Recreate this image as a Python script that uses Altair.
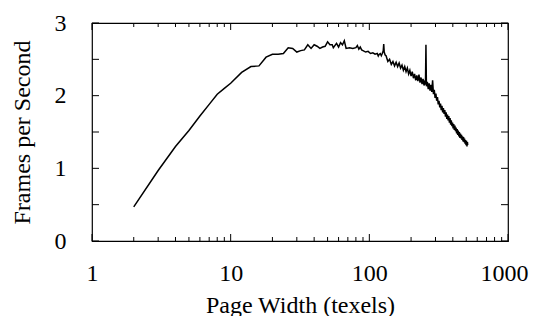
import altair as alt
import pandas as pd

# ---- data ----
rise_w = [2, 3, 4, 5, 6, 7, 8, 9, 10, 12, 14, 16, 18, 20, 22, 24, 26, 28]
rise_fps = [0.47, 0.97, 1.30, 1.52, 1.72, 1.88, 2.02, 2.10, 2.17, 2.32, 2.40, 2.41, 2.53, 2.57, 2.57, 2.58, 2.66, 2.65]

plateau_w = [30, 32, 34, 36, 38, 40, 42, 44, 46, 48, 50, 52, 54, 55, 58, 60, 62, 64, 66, 68,
             72, 76, 80, 82, 84, 86, 88, 90, 94, 98, 102, 106, 110, 114, 116, 118, 120, 122,
             124, 126, 127, 128, 130]
plateau_fps = [2.60, 2.62, 2.63, 2.70, 2.65, 2.70, 2.68, 2.65, 2.67, 2.68, 2.74, 2.70, 2.70, 2.66, 2.72, 2.67, 2.73, 2.70, 2.755, 2.65,
               2.66, 2.65, 2.66, 2.69, 2.64, 2.67, 2.63, 2.62, 2.60, 2.61, 2.58, 2.59, 2.57, 2.58, 2.545, 2.57, 2.58, 2.55,
               2.58, 2.62, 2.71, 2.60, 2.56]

decline_w = [132, 136, 140, 144, 148, 152, 156, 160, 164, 168, 172, 176, 180, 184, 188, 192, 196, 200,
             204, 208, 212, 216, 220, 224, 228, 232, 236, 240, 244, 248, 252, 254, 256, 258, 262, 266,
             270, 274, 278, 282, 286, 290, 294, 298, 302, 306, 310, 314, 318, 322, 326, 330, 334, 338,
             342, 346, 350, 354, 358, 362, 366, 370, 374, 378, 382, 386, 390, 394, 398, 402, 406, 410,
             414, 418, 422, 426, 430, 434, 438, 442, 446, 450, 454, 458, 462, 466, 470, 474, 478, 482,
             486, 490, 494, 498, 502, 506, 510, 512]
decline_fps = [2.55, 2.47, 2.50, 2.43, 2.47, 2.41, 2.46, 2.40, 2.45, 2.38, 2.42, 2.35, 2.40, 2.33, 2.38, 2.30, 2.35, 2.27,
               2.33, 2.24, 2.30, 2.21, 2.28, 2.20, 2.29, 2.18, 2.25, 2.16, 2.23, 2.14, 2.21, 2.15, 2.70, 2.13, 2.19, 2.09,
               2.17, 2.07, 2.15, 2.05, 2.21, 2.02, 2.08, 1.97, 2.03, 1.93, 1.98, 1.88, 1.93, 1.84, 1.89, 1.80, 1.86, 1.77,
               1.83, 1.75, 1.80, 1.71, 1.77, 1.68, 1.74, 1.66, 1.72, 1.63, 1.69, 1.60, 1.66, 1.58, 1.63, 1.55, 1.61, 1.53,
               1.59, 1.51, 1.56, 1.48, 1.54, 1.46, 1.52, 1.44, 1.50, 1.42, 1.48, 1.41, 1.46, 1.39, 1.44, 1.37, 1.43, 1.36,
               1.41, 1.34, 1.39, 1.32, 1.38, 1.30, 1.36, 1.32]

x_labels = [1, 10, 100, 1000]
x_minor = [2, 3, 4, 5, 6, 7, 8, 9, 20, 30, 40, 50, 60, 70, 80, 90, 200, 300, 400, 500, 600, 700, 800, 900]
y_labels = [0, 1, 2, 3]
y_ticks = [0, 0.5, 1, 1.5, 2, 2.5, 3]

x_title = "Page Width (texels)"
y_title = "Frames per Second"

# ---- chart ----
W, H = 416, 218
FONT = "Liberation Serif"
MAJ, MIN = 7, 4

xscale = alt.Scale(type="log", domain=[1, 1000], nice=False)
yscale = alt.Scale(domain=[0, 3], nice=False, zero=False)

xaxis = alt.Axis(values=x_labels, format="d", title=x_title,
                 ticks=False, tickSize=0, domain=False, grid=False, labelFlush=False,
                 labelOffset={"condition": {"test": "datum.value >= 1000", "value": -4}, "value": 0},
                 labelPadding=20, titlePadding=8)
yaxis = alt.Axis(values=y_labels, format="d", title=y_title,
                 ticks=False, tickSize=0, domain=False, grid=False, labelFlush=False,
                 labelPadding=26, titlePadding=20)

df = pd.DataFrame({"w": rise_w + plateau_w + decline_w,
                   "fps": rise_fps + plateau_fps + decline_fps})

line = alt.Chart(df).mark_line(color="black", strokeWidth=1.5).encode(
    x=alt.X("w:Q", scale=xscale, axis=xaxis),
    y=alt.Y("fps:Q", scale=yscale, axis=yaxis),
)

ydf = pd.DataFrame({"v": y_ticks})
xmaj = pd.DataFrame({"v": x_labels})
xmin = pd.DataFrame({"v": x_minor})

def yrule(x0, x1):
    return alt.Chart(ydf).mark_rule(color="black", strokeWidth=1).encode(
        y=alt.Y("v:Q", scale=yscale, axis=yaxis), x=alt.value(x0), x2=alt.value(x1))

def xrule(d, y0, y1):
    return alt.Chart(d).mark_rule(color="black", strokeWidth=1).encode(
        x=alt.X("v:Q", scale=xscale, axis=xaxis), y=alt.value(y0), y2=alt.value(y1))

ticks = [
    yrule(0, MAJ), yrule(W - MAJ, W),
    xrule(xmaj, H, H - MAJ), xrule(xmaj, 0, MAJ),
    xrule(xmin, H, H - MIN), xrule(xmin, 0, MIN),
]

chart = alt.layer(line, *ticks).properties(
    width=W, height=H,
    autosize=alt.AutoSizeParams(type="none"),
    padding={"left": 84, "top": 15, "right": 21, "bottom": 75},
).configure_view(
    stroke="black", strokeWidth=1.2
).configure_axis(
    labelFont=FONT, titleFont=FONT, labelFontSize=24, titleFontSize=24,
    labelColor="black", titleColor="black", titleFontWeight="normal",
)

chart.save("out.html", embed_options={"renderer": "svg", "actions": False})
